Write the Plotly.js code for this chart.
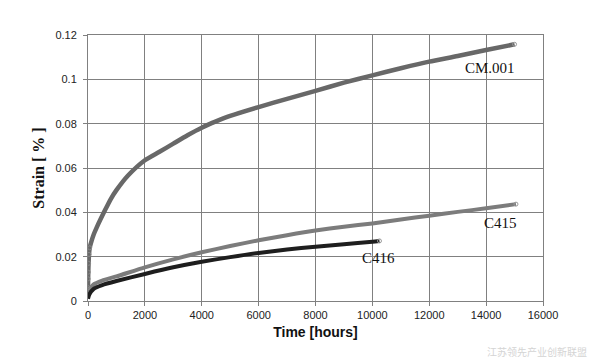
<!DOCTYPE html>
<html>
<head>
<meta charset="utf-8">
<script src="https://cdn.plot.ly/plotly-3.0.1.min.js"></script>
<style>html,body{margin:0;padding:0;background:#fff;}#chart{width:594px;height:362px;}</style>
</head>
<body>
<div id="chart"></div>
<script>
// Time [hours] and Strain [%]
const cmTime   = [0, 5, 10, 20, 35, 60, 100, 200, 300, 600, 800, 1000, 1400, 2000, 2500, 3000, 3500, 4000, 4500, 5000, 6000, 7000, 8000, 9000, 10000, 11000, 12000, 13000, 14000, 15000];
const cmStrain = [0.006, 0.010, 0.013, 0.017, 0.021, 0.024, 0.026, 0.030, 0.033, 0.041, 0.046, 0.050, 0.0565, 0.0635, 0.0672, 0.0710, 0.0748, 0.0782, 0.0810, 0.0835, 0.0875, 0.0912, 0.0948, 0.0985, 0.1018, 0.1050, 0.1080, 0.1105, 0.1132, 0.1158];

const c415Time   = [0, 50, 200, 500, 1000, 2000, 3000, 4000, 5000, 6000, 7000, 8000, 9000, 10000, 11000, 12000, 13000, 14000, 15050];
const c415Strain = [0.003, 0.005, 0.0075, 0.0092, 0.0111, 0.0152, 0.0188, 0.0220, 0.0248, 0.0274, 0.0297, 0.0318, 0.0335, 0.0350, 0.0368, 0.0385, 0.0402, 0.0418, 0.0437];

const c416Time   = [0, 50, 200, 500, 1000, 2000, 3000, 4000, 5000, 6000, 7000, 8000, 9000, 10000, 10250];
const c416Strain = [0.001, 0.003, 0.0055, 0.0072, 0.0090, 0.0122, 0.0152, 0.0177, 0.0198, 0.0217, 0.0232, 0.0245, 0.0256, 0.0267, 0.0271];

const seriesNames = ["CM.001", "C415", "C416"];
const labelX = [14130, 14500, 10210];
const labelY = [0.1051, 0.0350, 0.0192];

const xTicks = [0, 2000, 4000, 6000, 8000, 10000, 12000, 14000, 16000];
const yTicks = [0, 0.02, 0.04, 0.06, 0.08, 0.1, 0.12];

const traces = [
  {x: cmTime, y: cmStrain, mode: "lines", line: {color: "#686868", width: 4.5, shape: "spline", smoothing: 0.6}, name: seriesNames[0]},
  {x: c415Time, y: c415Strain, mode: "lines", line: {color: "#7c7c7c", width: 4, shape: "spline", smoothing: 0.6}, name: seriesNames[1]},
  {x: c416Time, y: c416Strain, mode: "lines", line: {color: "#1e1e1e", width: 4, shape: "spline", smoothing: 0.6}, name: seriesNames[2]},
  {x: [cmTime[cmTime.length-1], c415Time[c415Time.length-1], c416Time[c416Time.length-1]],
   y: [cmStrain[cmStrain.length-1], c415Strain[c415Strain.length-1], c416Strain[c416Strain.length-1]],
   mode: "markers", marker: {symbol: "circle-open", size: 4, color: "#999", line: {width: 1}}, hoverinfo: "skip"},
  {x: cmTime.slice(0, 6), y: cmStrain.slice(0, 6), mode: "markers",
   marker: {symbol: "circle-open", size: 4, color: "#888", line: {width: 1}}, hoverinfo: "skip"}
];

const annotations = seriesNames.map((n, i) => ({
  x: labelX[i], y: labelY[i], xref: "x", yref: "y", text: n, showarrow: false,
  font: {family: "Liberation Serif, Times New Roman, serif", size: 15, color: "#111"}
}));
annotations.push({
  x: 1.1, y: -0.19, xref: "paper", yref: "paper", xanchor: "right", yanchor: "middle",
  text: "江苏领先产业创新联盟", showarrow: false,
  font: {family: "Noto Sans CJK SC", size: 10, color: "#d4d4d4"}
});

const layout = {
  width: 594, height: 362,
  margin: {l: 88, r: 51, t: 35, b: 61, pad: 0},
  paper_bgcolor: "#fff", plot_bgcolor: "#fff",
  showlegend: false,
  font: {family: "Liberation Sans, Arial, sans-serif", size: 11, color: "#222"},
  xaxis: {
    range: [0, 16000], tickvals: xTicks, ticktext: xTicks.map(String),
    showgrid: true, gridcolor: "#808080", gridwidth: 1,
    zeroline: false, showline: true, linecolor: "#808080", linewidth: 1, mirror: true,
    ticks: "outside", ticklen: 4, tickcolor: "#808080",
    tickfont: {size: 11, color: "#222"},
    title: {text: "<b>Time [hours]</b>", font: {family: "Liberation Sans, Arial, sans-serif", size: 14, color: "#111"}, standoff: 6}
  },
  yaxis: {
    range: [0, 0.12], tickvals: yTicks, ticktext: yTicks.map(String),
    showgrid: true, gridcolor: "#808080", gridwidth: 1,
    zeroline: false, showline: true, linecolor: "#808080", linewidth: 1, mirror: true,
    ticks: "outside", ticklen: 4, tickcolor: "#808080",
    tickfont: {size: 11, color: "#222"}, ticklabelstandoff: 4,
    title: {text: "<b>Strain [ % ]</b>", font: {family: "Liberation Serif, Times New Roman, serif", size: 16, color: "#111"}, standoff: 6}
  },
  annotations: annotations
};

Plotly.newPlot("chart", traces, layout, {displayModeBar: false, staticPlot: true});
</script>
</body>
</html>
